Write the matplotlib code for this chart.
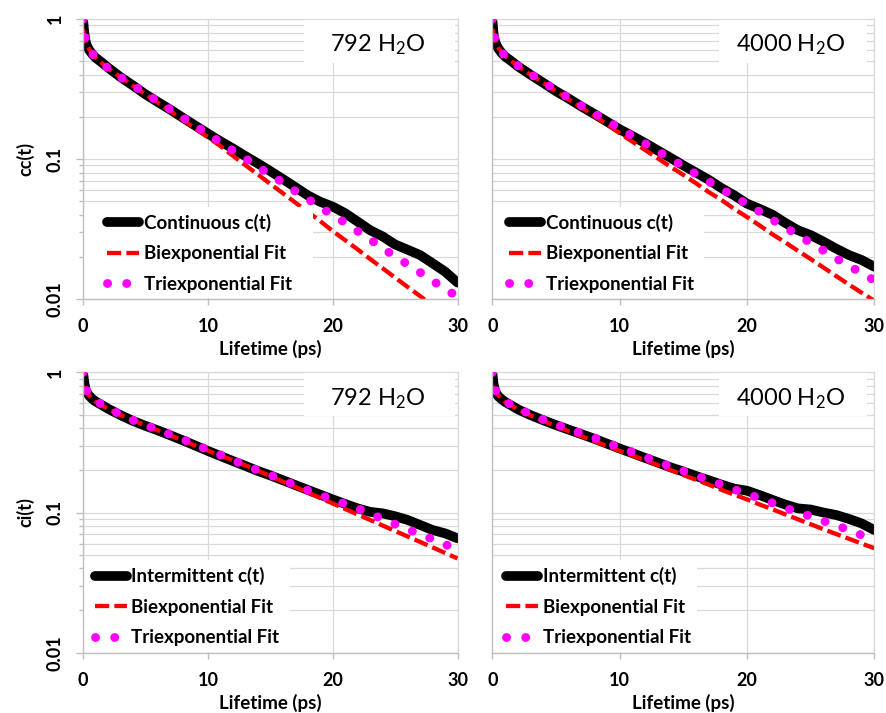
import matplotlib
matplotlib.use('Agg')
import matplotlib.pyplot as plt
from matplotlib.lines import Line2D
from matplotlib.patches import Rectangle
from matplotlib.ticker import FixedLocator, FixedFormatter, NullFormatter

plt.rcParams['font.family'] = ['Lato', 'DejaVu Sans']
plt.rcParams['mathtext.fontset'] = 'custom'
plt.rcParams['mathtext.rm'] = 'Lato'
plt.rcParams['mathtext.it'] = 'Lato:italic'
plt.rcParams['mathtext.bf'] = 'Lato:bold'

# ---------------- data ----------------
time_ps = [0, 0.1, 0.2, 0.3, 0.5, 0.75, 1, 1.5, 2, 3, 4, 5, 6, 7, 8, 9, 10,
           11, 12, 13, 14, 15, 16, 17, 18, 19, 20, 21, 22, 23, 24, 25, 26,
           27, 28, 29, 30]

# 792 H2O, continuous
cont_792 = [1.0, 0.80, 0.70, 0.65, 0.60, 0.56, 0.53, 0.49, 0.45, 0.385, 0.335,
            0.29, 0.255, 0.225, 0.197, 0.173, 0.152, 0.134, 0.119, 0.105,
            0.093, 0.082, 0.072, 0.063, 0.055, 0.0495, 0.0457, 0.041, 0.0357,
            0.031, 0.028, 0.0245, 0.0225, 0.0206, 0.018, 0.0157, 0.0131]
biexp_cont_792 = [0.85, 0.76, 0.70, 0.66, 0.61, 0.565, 0.53, 0.485, 0.445,
                  0.385, 0.333, 0.29, 0.252, 0.219, 0.19, 0.165, 0.143, 0.124,
                  0.1055, 0.0905, 0.0776, 0.0665, 0.057, 0.0489, 0.042, 0.036,
                  0.0306, 0.0263, 0.0226, 0.0193, 0.0166, 0.0142, 0.0122,
                  0.0105, 0.0090, 0.0077, 0.0066]
triexp_cont_792 = [1.0, 0.80, 0.72, 0.67, 0.61, 0.565, 0.53, 0.485, 0.445,
                   0.385, 0.335, 0.295, 0.258, 0.226, 0.198, 0.173, 0.151,
                   0.132, 0.115, 0.101, 0.088, 0.077, 0.068, 0.059, 0.052,
                   0.045, 0.040, 0.035, 0.0305, 0.0266, 0.0231, 0.0201, 0.0177,
                   0.0155, 0.0135, 0.0118, 0.0104]

# 4000 H2O, continuous
cont_4000 = [1.0, 0.78, 0.70, 0.66, 0.61, 0.57, 0.54, 0.50, 0.46, 0.40, 0.35,
             0.305, 0.27, 0.237, 0.21, 0.185, 0.163, 0.146, 0.13, 0.115, 0.102,
             0.09, 0.08, 0.071, 0.062, 0.055, 0.048, 0.044, 0.040, 0.035,
             0.031, 0.0286, 0.0257, 0.0229, 0.0206, 0.019, 0.017]
biexp_cont_4000 = [0.85, 0.76, 0.71, 0.67, 0.62, 0.58, 0.545, 0.50, 0.462,
                   0.40, 0.35, 0.305, 0.266, 0.233, 0.203, 0.177, 0.153, 0.133,
                   0.116, 0.101, 0.088, 0.077, 0.067, 0.058, 0.051, 0.044,
                   0.0385, 0.0335, 0.029, 0.0254, 0.0221, 0.0193, 0.0168,
                   0.0146, 0.0127, 0.0111, 0.0097]
triexp_cont_4000 = [1.0, 0.80, 0.73, 0.68, 0.62, 0.58, 0.545, 0.50, 0.465,
                    0.405, 0.355, 0.31, 0.273, 0.24, 0.212, 0.188, 0.166,
                    0.146, 0.129, 0.114, 0.100, 0.089, 0.078, 0.069, 0.061,
                    0.054, 0.0475, 0.042, 0.0368, 0.0325, 0.0286, 0.0252,
                    0.0222, 0.0195, 0.0173, 0.0153, 0.0136]

# 792 H2O, intermittent
int_792 = [1.0, 0.85, 0.76, 0.72, 0.68, 0.645, 0.62, 0.585, 0.55, 0.495, 0.45,
           0.415, 0.385, 0.355, 0.327, 0.30, 0.275, 0.253, 0.233, 0.215, 0.198,
           0.184, 0.17, 0.157, 0.145, 0.134, 0.124, 0.115, 0.107, 0.101,
           0.0986, 0.094, 0.0885, 0.0815, 0.075, 0.071, 0.0655]
biexp_int_792 = [0.80, 0.76, 0.73, 0.71, 0.68, 0.645, 0.617, 0.58, 0.548,
                 0.497, 0.455, 0.418, 0.385, 0.355, 0.326, 0.30, 0.276, 0.255,
                 0.236, 0.217, 0.199, 0.182, 0.166, 0.152, 0.139, 0.127, 0.116,
                 0.106, 0.0968, 0.0885, 0.0808, 0.0738, 0.0675, 0.0617, 0.0564,
                 0.0515, 0.047]
triexp_int_792 = [1.0, 0.86, 0.78, 0.74, 0.69, 0.655, 0.63, 0.59, 0.555, 0.50,
                  0.455, 0.42, 0.39, 0.36, 0.333, 0.305, 0.28, 0.258, 0.236,
                  0.218, 0.20, 0.185, 0.17, 0.157, 0.144, 0.133, 0.124, 0.115,
                  0.107, 0.0985, 0.0895, 0.0825, 0.076, 0.070, 0.0645, 0.0592,
                  0.0545]

# 4000 H2O, intermittent
int_4000 = [1.0, 0.82, 0.75, 0.71, 0.67, 0.64, 0.615, 0.58, 0.545, 0.495,
            0.455, 0.42, 0.39, 0.362, 0.336, 0.31, 0.286, 0.265, 0.245, 0.227,
            0.21, 0.196, 0.182, 0.17, 0.158, 0.148, 0.143, 0.133, 0.123, 0.114,
            0.107, 0.105, 0.10, 0.096, 0.09, 0.0836, 0.075]
biexp_int_4000 = [0.80, 0.76, 0.73, 0.71, 0.68, 0.65, 0.615, 0.578, 0.545,
                  0.493, 0.45, 0.413, 0.38, 0.35, 0.323, 0.298, 0.275, 0.255,
                  0.236, 0.218, 0.201, 0.185, 0.171, 0.158, 0.145, 0.134,
                  0.124, 0.114, 0.1055, 0.097, 0.0895, 0.0825, 0.076, 0.0703,
                  0.065, 0.0601, 0.0556]
triexp_int_4000 = [1.0, 0.85, 0.77, 0.73, 0.69, 0.655, 0.62, 0.585, 0.55,
                   0.503, 0.46, 0.425, 0.395, 0.367, 0.342, 0.315, 0.291, 0.27,
                   0.249, 0.23, 0.213, 0.198, 0.184, 0.17, 0.158, 0.146, 0.136,
                   0.126, 0.117, 0.108, 0.100, 0.094, 0.087, 0.081, 0.075,
                   0.069, 0.0635]

x_ticks = [0, 10, 20, 30]
y_ticks = [0.01, 0.1, 1]
y_tick_labels = ['0.01', '0.1', '1']
system_labels = ['792 H$_\\mathregular{2}$O', '4000 H$_\\mathregular{2}$O']
series_names = ['Continuous c(t)', 'Intermittent c(t)']
fit_names = ['Biexponential Fit', 'Triexponential Fit']
x_label = 'Lifetime (ps)'
y_labels = ['cc(t)', 'ci(t)']

# ---------------- figure ----------------
W, H = 886, 713
fig = plt.figure(figsize=(W / 100, H / 100), dpi=100)

def rect(x0, x1, ytop, ybot):
    return [x0 / W, 1 - ybot / H, (x1 - x0) / W, (ybot - ytop) / H]

GRID = '#d9d9d9'
AXC = '#bfbfbf'

panels = [
    dict(r=rect(83, 457.5, 19, 299), d=(cont_792, biexp_cont_792, triexp_cont_792),
         name=series_names[0], sys=system_labels[0], left=True,
         leg_w=0.612, handle_x=103, text_box=(304, 455)),
    dict(r=rect(492.3, 874.3, 19, 299), d=(cont_4000, biexp_cont_4000, triexp_cont_4000),
         name=series_names[0], sys=system_labels[1], left=False,
         leg_w=0.552, handle_x=505, text_box=(719, 866.7)),
    dict(r=rect(83, 457.5, 372.3, 652.7), d=(int_792, biexp_int_792, triexp_int_792),
         name=series_names[1], sys=system_labels[0], left=True,
         leg_w=0.55, handle_x=90.7, text_box=(304, 455)),
    dict(r=rect(492.3, 874.3, 372.3, 652.7), d=(int_4000, biexp_int_4000, triexp_int_4000),
         name=series_names[1], sys=system_labels[1], left=False,
         leg_w=0.534, handle_x=502, text_box=(719, 866.7)),
]

FS = 13
LFS = 13.5
for i, p in enumerate(panels):
    ax = fig.add_axes(p['r'])
    x0px = p['r'][0] * W
    wpx = p['r'][2] * W
    ax.set_yscale('log')
    ax.set_xlim(0, 30)
    ax.set_ylim(0.01, 1)
    ax.set_axisbelow(True)

    data, bi, tri = p['d']
    ax.plot(time_ps, data, color='black', lw=7, solid_capstyle='round',
            solid_joinstyle='round', zorder=2)
    ax.plot(time_ps, bi, color='#ff0000', lw=3.1, linestyle=(0, (3.3, 1.2)),
            dash_capstyle='butt', zorder=3)
    ax.plot(time_ps, tri, color='#ff00ff', lw=6.4, linestyle=(0, (0.01, 2.1)),
            dash_capstyle='round', zorder=3.5)

    # grid
    ax.xaxis.set_major_locator(FixedLocator(x_ticks))
    ax.yaxis.set_major_locator(FixedLocator(y_ticks))
    minors = [m * 10.0 ** e for e in (-2, -1) for m in range(2, 10)]
    ax.yaxis.set_minor_locator(FixedLocator(minors))
    ax.yaxis.set_minor_formatter(NullFormatter())
    ax.xaxis.set_minor_locator(FixedLocator([]))
    ax.grid(True, which='major', axis='both', color=GRID, lw=0.9)
    ax.grid(True, which='minor', axis='y', color=GRID, lw=0.9)

    for s in ('left', 'bottom'):
        ax.spines[s].set_color(AXC)
        ax.spines[s].set_linewidth(1.0)
        ax.spines[s].set_zorder(6)
    for s in ('top', 'right'):
        ax.spines[s].set_color(GRID)
        ax.spines[s].set_linewidth(0.9)

    ax.tick_params(axis='x', which='major', direction='out', length=4,
                   color=AXC, width=1, labelsize=FS, pad=10)
    ax.set_xticklabels([str(v) for v in x_ticks], fontweight='bold')

    if p['left']:
        ax.yaxis.set_major_formatter(FixedFormatter(y_tick_labels))
        ax.tick_params(axis='y', which='major', direction='out', length=5,
                       color=AXC, width=1, labelsize=FS, pad=9,
                       labelrotation=90)
        ax.tick_params(axis='y', which='minor', direction='out', length=3,
                       color=AXC, width=1)
        for lab in ax.get_yticklabels():
            lab.set_fontweight('bold')
            lab.set_verticalalignment('center')
    else:
        ax.tick_params(axis='y', which='both', length=0, labelleft=False)

    # white legend box and system box
    ax.add_patch(Rectangle((0.003, 0.003), p['leg_w'], 0.326, transform=ax.transAxes,
                           facecolor='white', edgecolor='none', zorder=4))
    tb0, tb1 = p['text_box']
    bx0 = (tb0 - x0px) / wpx
    bx1 = (tb1 - x0px) / wpx
    ax.add_patch(Rectangle((bx0, 0.843), bx1 - bx0, 0.153, transform=ax.transAxes,
                           facecolor='white', edgecolor='none', zorder=4))
    ax.text((bx0 + bx1) / 2 - 0.005, 0.907, p['sys'], transform=ax.transAxes,
            ha='center', va='center', fontsize=17, zorder=5)

    handles = [
        Line2D([], [], color='black', lw=7, solid_capstyle='round'),
        Line2D([], [], color='#ff0000', lw=3.1, linestyle=(0, (3.3, 1.2)),
               dash_capstyle='butt'),
        Line2D([], [], color='#ff00ff', lw=6.4,
               linestyle=(0, (0.01, 2.15, 0.01, 30)), dash_capstyle='round'),
    ]
    hx = (p['handle_x'] + 4 - x0px) / wpx
    leg = ax.legend(handles, [p['name'], fit_names[0], fit_names[1]],
                    loc='upper left', bbox_to_anchor=(hx, 0.305),
                    frameon=False, borderpad=0, borderaxespad=0,
                    handlelength=1.7, handletextpad=0.25, labelspacing=0.72,
                    prop={'weight': 'bold', 'size': LFS})
    leg.set_zorder(5)

    # x label
    cx = (p['r'][0] + p['r'][2] / 2)
    ybot_px = (1 - p['r'][1]) * H
    fig.text(cx, 1 - (ybot_px + 50) / H, x_label, ha='center', va='center',
             fontsize=13.5, fontweight='bold')
    if p['left']:
        ycen = p['r'][1] + p['r'][3] / 2
        fig.text(25 / W, ycen, y_labels[0] if i < 2 else y_labels[1],
                 rotation=90, ha='center', va='center', fontsize=FS,
                 fontweight='bold')

fig.savefig('out.png', dpi=100)
